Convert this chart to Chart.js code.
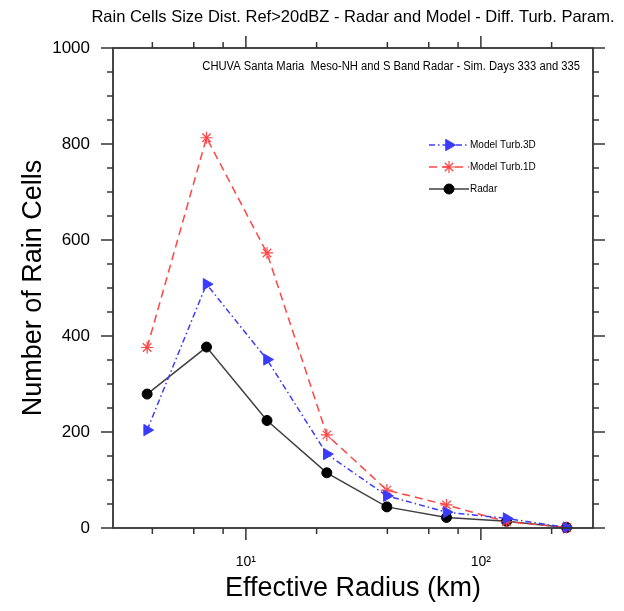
<!DOCTYPE html>
<html>
<head>
<meta charset="utf-8">
<script src="https://cdn.jsdelivr.net/npm/chart.js@4.4.1/dist/chart.umd.min.js"></script>
<style>
  html, body { margin: 0; padding: 0; background: #fff; }
  #wrap { width: 624px; height: 611px; }
</style>
</head>
<body>
<div id="wrap"><canvas id="chart" width="624" height="611"></canvas></div>
<script>
// effective radius (km) of each size bin
const radius = [3.8, 6.8, 12.3, 22.1, 39.8, 71.4, 128.6, 231.5];
// number of rain cells per bin
const turb3D = [204, 508, 351, 154, 67, 33, 20, 1];
const turb1D = [376, 813, 573, 194, 79, 48, 13, 1];
const radar  = [279, 377, 224, 115, 44, 22, 14, 1];

const xTicks = [4, 6, 8, 10, 20, 40, 60, 80, 100, 200];
const xTickLabels = { 10: '10¹', 100: '10²' };
const yMajorStep = 200;

const chartTitle = 'Rain Cells Size Dist. Ref>20dBZ - Radar and Model - Diff. Turb. Param.';
const subTitle = 'CHUVA Santa Maria  Meso-NH and S Band Radar - Sim. Days 333 and 335';

const FONT = "'Liberation Sans', Arial, Helvetica, sans-serif";
const AXIS = '#333';

const toPoints = (vals) => vals.map((v, i) => ({ x: radius[i], y: v }));

// box + outward tick marks on all four sides, like the NCL frame
const framePlugin = {
    id: 'frame',
    afterDraw(chart) {
        const { ctx, chartArea: a } = chart;
        const xs = chart.scales.x;
        const ys = chart.scales.y;
        const line = (x1, y1, x2, y2) => {
            ctx.beginPath();
            ctx.moveTo(x1, y1);
            ctx.lineTo(x2, y2);
            ctx.stroke();
        };
        ctx.save();
        ctx.strokeStyle = AXIS;
        ctx.lineWidth = 1.5;
        ctx.setLineDash([]);
        ys.ticks.forEach(t => {
            const y = ys.getPixelForValue(t.value);
            const len = t.value % yMajorStep === 0 ? 12 : 6;
            line(a.left - len, y, a.left, y);
            line(a.right, y, a.right + len, y);
        });
        xs.ticks.forEach(t => {
            const x = xs.getPixelForValue(t.value);
            const len = xTickLabels[t.value] ? 12 : 6;
            line(x, a.bottom, x, a.bottom + len);
            line(x, a.top - len, x, a.top);
        });
        ctx.lineWidth = 1.8;
        ctx.strokeRect(a.left, a.top, a.right - a.left, a.bottom - a.top);
        ctx.restore();
    }
};

const textPlugin = {
    id: 'texts',
    afterDraw(chart) {
        const { ctx, chartArea: a } = chart;
        ctx.save();
        ctx.fillStyle = '#000';
        ctx.textBaseline = 'middle';
        ctx.textAlign = 'center';
        ctx.font = '16.5px ' + FONT;
        ctx.fillText(chartTitle, (a.left + a.right) / 2, 17);
        // subtitle is set in a condensed face in the original
        ctx.textAlign = 'right';
        ctx.font = '12px ' + FONT;
        ctx.translate(a.right - 13, 67);
        ctx.scale(0.935, 1);
        ctx.fillText(subTitle, 0, 0);
        ctx.restore();
    }
};

const legendPlugin = {
    id: 'lineLegend',
    afterDraw(chart) {
        const { ctx } = chart;
        const x0 = 429, x1 = 469, rowY = [145, 167, 189];
        ctx.save();
        chart.data.datasets.forEach((ds, i) => {
            const y = rowY[i];
            ctx.strokeStyle = ds.borderColor;
            ctx.lineWidth = ds.borderWidth;
            ctx.setLineDash(ds.borderDash || []);
            ctx.beginPath();
            ctx.moveTo(x0, y);
            ctx.lineTo(x1, y);
            ctx.stroke();
            ctx.setLineDash([]);
            ctx.fillStyle = ds.pointBackgroundColor;
            ctx.strokeStyle = ds.pointBorderColor;
            ctx.lineWidth = ds.pointBorderWidth;
            Chart.helpers.drawPoint(ctx, {
                pointStyle: ds.pointStyle,
                rotation: ds.pointRotation || 0,
                radius: ds.pointRadius,
                borderWidth: ds.pointBorderWidth
            }, (x0 + x1) / 2, y);
            ctx.fillStyle = '#000';
            ctx.font = '10px ' + FONT;
            ctx.textAlign = 'left';
            ctx.textBaseline = 'middle';
            ctx.fillText(ds.label, x1 + 1, y);
        });
        ctx.restore();
    }
};

new Chart(document.getElementById('chart'), {
    type: 'line',
    data: {
        datasets: [
            {
                label: 'Model Turb.3D',
                data: toPoints(turb3D),
                borderColor: '#3b3bff',
                borderWidth: 1.5,
                borderDash: [6, 3, 1.5, 3],
                pointStyle: 'triangle',
                pointRotation: 90,
                pointRadius: 6.5,
                pointBackgroundColor: '#3b3bff',
                pointBorderColor: '#3b3bff',
                pointBorderWidth: 1,
                tension: 0,
                clip: false
            },
            {
                label: 'Model Turb.1D',
                data: toPoints(turb1D),
                borderColor: '#ff4545',
                borderWidth: 1.5,
                borderDash: [8, 5],
                pointStyle: 'star',
                pointRadius: 6,
                pointBackgroundColor: '#ff4545',
                pointBorderColor: '#ff4545',
                pointBorderWidth: 1.2,
                tension: 0,
                clip: false
            },
            {
                label: 'Radar',
                data: toPoints(radar),
                borderColor: '#404040',
                borderWidth: 1.5,
                pointStyle: 'circle',
                pointRadius: 5,
                pointBackgroundColor: '#000',
                pointBorderColor: '#000',
                pointBorderWidth: 1,
                tension: 0,
                clip: false
            }
        ]
    },
    options: {
        responsive: false,
        animation: false,
        devicePixelRatio: 1,
        layout: { padding: { top: 48, right: 31, left: 0, bottom: 0 } },
        plugins: {
            legend: { display: false },
            title: { display: false },
            tooltip: { enabled: false }
        },
        scales: {
            x: {
                type: 'logarithmic',
                bounds: 'data',
                min: 2.72,
                max: 300,
                afterBuildTicks: (scale) => {
                    scale.ticks = xTicks.map(v => ({ value: v }));
                },
                afterFit: (scale) => { scale.height = 83; },
                grid: { display: false, drawTicks: false },
                border: { display: false },
                ticks: {
                    autoSkip: false,
                    maxRotation: 0,
                    padding: 26,
                    color: '#000',
                    font: { family: FONT, size: 14 },
                    callback: (v) => xTickLabels[v] || ''
                },
                title: {
                    display: true,
                    text: 'Effective Radius (km)',
                    color: '#000',
                    font: { family: FONT, size: 27 },
                    padding: { top: 0, bottom: 6 }
                }
            },
            y: {
                type: 'linear',
                min: 0,
                max: 1000,
                afterFit: (scale) => { scale.width = 113; },
                grid: { display: false, drawTicks: false },
                border: { display: false },
                ticks: {
                    stepSize: 50,
                    autoSkip: false,
                    padding: 23,
                    color: '#000',
                    font: { family: FONT, size: 17 },
                    callback: (v) => v % yMajorStep === 0 ? v : ''
                },
                title: {
                    display: true,
                    text: 'Number of Rain Cells',
                    color: '#000',
                    font: { family: FONT, size: 27 },
                    padding: { top: 17, bottom: 0 }
                }
            }
        }
    },
    plugins: [framePlugin, textPlugin, legendPlugin]
});
</script>
</body>
</html>
